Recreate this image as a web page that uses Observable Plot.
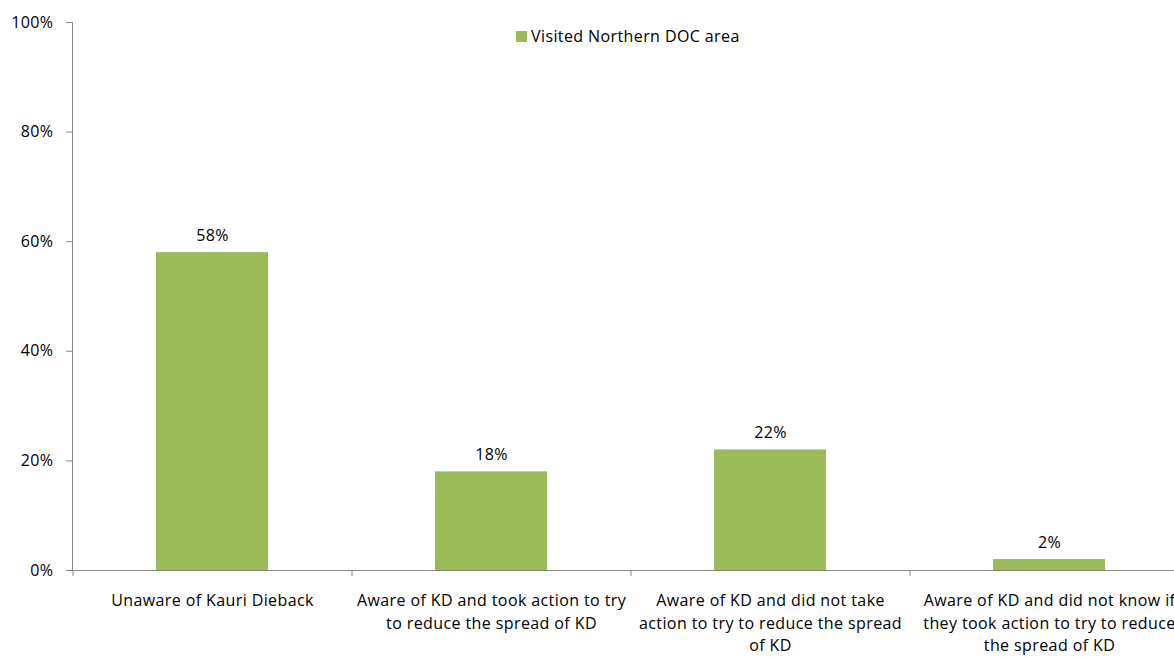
<!DOCTYPE html>
<html>
<head>
<meta charset="utf-8">
<script src="https://cdn.jsdelivr.net/npm/d3@7"></script>
<script src="https://cdn.jsdelivr.net/npm/@observablehq/plot@0.6"></script>
<style>
  html, body { margin: 0; padding: 0; background: #fff; overflow: hidden; }
  #wrap { position: relative; width: 1174px; height: 657px; font-family: "Open Sans", "Liberation Sans", sans-serif; }
  #legend { position: absolute; left: 516px; top: 26px; font-size: 16px; letter-spacing: 0.4px; color: #000; display: flex; align-items: center; line-height: 20px; }
  #legend .sw { width: 11px; height: 11px; background: #9BBB59; margin-right: 4px; }
  svg text { letter-spacing: 0.4px; }
</style>
</head>
<body>
<div id="wrap">
  <div id="chart"></div>
  <div id="legend"><span class="sw"></span><span>Visited Northern DOC area</span></div>
</div>
<script>
const categories = [
  "Unaware of Kauri Dieback",
  "Aware of KD and took action to try to reduce the spread of KD",
  "Aware of KD and did not take action to try to reduce the spread of KD",
  "Aware of KD and did not know if they took action to try to reduce the spread of KD"
];
const tickLabels = [
  "Unaware of Kauri Dieback",
  "Aware of KD and took action to try\nto reduce the spread of KD",
  "Aware of KD and did not take\naction to try to reduce the spread\nof KD",
  "Aware of KD and did not know if\nthey took action to try to reduce\nthe spread of KD"
];
const values = [58, 18, 22, 2];
const yTicks = [0, 20, 40, 60, 80, 100];
const seriesName = "Visited Northern DOC area";

const data = categories.map((c, i) => ({category: c, value: values[i]}));
const labelOf = new Map(categories.map((c, i) => [c, tickLabels[i]]));

const W = 1174, H = 657;
const left = 72, right = 1188;
const step = (right - left) / categories.length;
const axisColor = "#868686";

const chart = Plot.plot({
  width: W,
  height: H,
  marginLeft: left,
  marginRight: 0,
  marginTop: 22,
  marginBottom: 87,
  style: {fontFamily: "'Open Sans', 'Liberation Sans', sans-serif", fontSize: "16px", color: "#000", background: "#fff", overflow: "visible"},
  x: {domain: categories, range: [left, right], paddingInner: 0.6, paddingOuter: 0.3},
  y: {domain: [0, 100]},
  marks: [
    Plot.barY(data, {x: "category", y: "value", fill: "#9BBB59"}),
    Plot.frame({anchor: "left", stroke: axisColor}),
    Plot.ruleY([0], {stroke: axisColor}),
    Plot.axisY({ticks: yTicks, tickFormat: d => d + "%", tickSize: 6, tickPadding: 13, stroke: axisColor, fill: "#000", label: null, fontSize: 16}),
    Plot.axisX({ticks: categories, tickSize: 6, text: null, dx: -step / 2, stroke: axisColor, label: null}),
    Plot.axisX({ticks: categories, tickSize: 0, tickPadding: 20, tickFormat: d => labelOf.get(d), lineHeight: 1.4, fill: "#000", label: null, fontSize: 16}),
    Plot.text(data, {x: "category", y: "value", text: d => d.value + "%", dy: -12, lineAnchor: "bottom", fill: "#000", fontSize: 16})
  ]
});
document.getElementById("chart").appendChild(chart);
</script>
</body>
</html>
